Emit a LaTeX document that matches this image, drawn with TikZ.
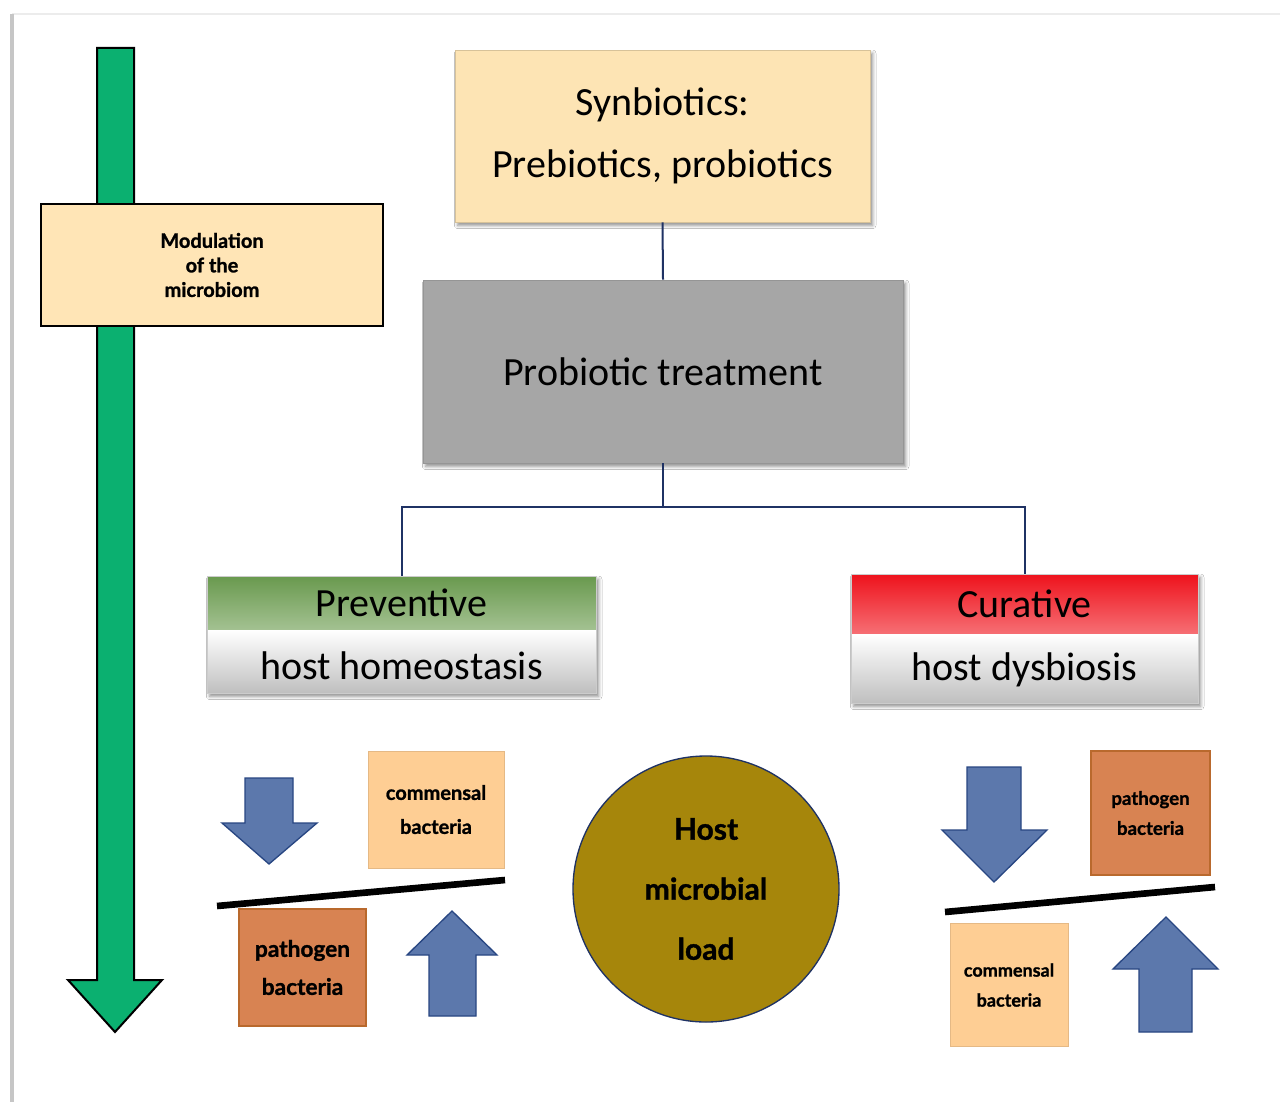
\documentclass[tikz,border=0pt]{standalone}
\usepackage{fontspec}
\setmainfont{Carlito}
\newfontfamily\latofont[BoldFeatures={FakeBold=1.2}]{Lato}
\usetikzlibrary{shadows.blur}
\definecolor{peach}{RGB}{253,228,180}
\definecolor{peachB}{RGB}{255,229,182}
\definecolor{greyfill}{RGB}{166,166,166}
\definecolor{navy}{RGB}{31,50,100}
\definecolor{comm}{RGB}{254,206,148}
\definecolor{path}{RGB}{216,131,82}
\definecolor{pathB}{RGB}{185,105,45}
\definecolor{gold}{RGB}{166,134,11}
\definecolor{arrowgreen}{RGB}{11,176,112}
\definecolor{arrowblue}{RGB}{92,120,172}
\definecolor{arrowblueB}{RGB}{40,70,130}
\definecolor{pgreen}{RGB}{105,153,78}
\definecolor{pgreenL}{RGB}{232,241,225}
\definecolor{cred}{RGB}{238,18,28}
\definecolor{credL}{RGB}{255,218,218}
\begin{document}
\begin{tikzpicture}[x=0.75pt,y=-0.75pt,
  shad/.style={blur shadow={shadow xshift=2pt,shadow yshift=-2.5pt,shadow blur radius=2.5pt,shadow opacity=45}},
  bigtext/.style={font=\fontsize{30}{47}\selectfont,align=center},
  conn/.style={draw=navy,line width=1.5pt},
  plainbox/.style={rectangle,inner sep=0pt,align=center},
  smallbold/.style 2 args={font=\latofont\bfseries\fontsize{#1}{#2}\selectfont},
  gradbox/.style 2 args={rectangle,inner sep=0pt,draw=gray!40,line width=0.6pt,shad,bigtext,
    path picture={
      \shade[top color=#1,bottom color=#2] (path picture bounding box.north west) rectangle ([yshift=3pt]path picture bounding box.east);
      \shade[top color=white,bottom color=gray!50] ([yshift=3pt]path picture bounding box.west) rectangle (path picture bounding box.south east);
    }},
  blockarrow/.style={fill=arrowblue,draw=arrowblueB,line width=1pt,line join=miter},
  balance/.style={line width=5pt,black}
]
\useasboundingbox (0,0) rectangle (1280,1102);
\fill[white] (0,0) rectangle (1280,1102);
% frame
\draw[gray!15,line width=1.5pt] (12,14) -- (1280,14);
\draw[gray!45,line width=2.5pt] (12,14) -- (12,1102);

% green arrow
\draw[fill=arrowgreen,draw=black,line width=1.5pt,line join=miter]
  (97,48) -- (134,48) -- (134,980) -- (162,980) -- (115,1032) -- (68,980) -- (97,980) -- cycle;

% modulation box
\node[plainbox,fill=peachB,draw=black,line width=1.2pt,minimum width=256.5pt,minimum height=91.5pt,
  smallbold={15}{18.4}] (mod) at (212,265) {Modulation\\of the\\microbiom};

% top boxes
\node[plainbox,fill=peach,draw=peach!85!black,line width=0.5pt,minimum width=311.25pt,minimum height=129pt,shad,bigtext]
  (syn) at (662.5,136) {Synbiotics:\\Prebiotics, probiotics};
\node[plainbox,fill=greyfill,draw=greyfill!90!black,line width=0.5pt,minimum width=360pt,minimum height=137.25pt,shad,bigtext]
  (prob) at (663,371.5) {Probiotic treatment};

% preventive / curative
\node[gradbox={pgreen}{pgreenL},minimum width=291.75pt,minimum height=87.75pt]
  (prev) at (401.5,634.5) {Preventive\\host homeostasis};
\node[gradbox={cred}{credL},minimum width=260.25pt,minimum height=96.75pt]
  (cur) at (1024.5,638.5) {Curative\\host dysbiosis};

% connectors
\coordinate (j) at (663,507);
\draw[conn] (syn.south) -- (prob.north);
\draw[conn] (prob.south) -- (j);
\draw[conn] (prev.north) |- (j) -| (cur.north);

% left balance group
\draw[blockarrow] (245,778) -- (293,778) -- (293,823) -- (317,823) -- (269,864) -- (222,823) -- (245,823) -- cycle;
\node[plainbox,fill=comm,draw=comm!90!black,line width=0.4pt,minimum width=102pt,minimum height=87.75pt,smallbold={15}{25.5}]
  (commL) at (436,809.5) {commensal\\bacteria};
\draw[balance] (217,906) -- (505,880);
\node[plainbox,fill=path,draw=pathB,line width=0.8pt,minimum width=95.25pt,minimum height=87.75pt,smallbold={17}{28.5}]
  (pathL) at (302.5,967.5) {pathogen\\bacteria};
\draw[blockarrow] (452,911) -- (497,955) -- (476,955) -- (476,1016) -- (429,1016) -- (429,955) -- (407,955) -- cycle;

% circle
\node[circle,fill=gold,draw=navy,line width=1pt,minimum size=199.5pt,inner sep=0pt,align=center,
  font=\latofont\bfseries\fontsize{22.5}{45}\selectfont] (load) at (706,889) {Host\\microbial\\load};

% right balance group
\draw[blockarrow] (967,767) -- (1021,767) -- (1021,830) -- (1047,830) -- (994,882) -- (942,830) -- (967,830) -- cycle;
\node[plainbox,fill=path,draw=pathB,line width=0.8pt,minimum width=89.25pt,minimum height=93pt,smallbold={14}{22.5}]
  (pathR) at (1150.5,813) {pathogen\\bacteria};
\draw[balance] (945,912) -- (1215,887);
\node[plainbox,fill=comm,draw=comm!90!black,line width=0.4pt,minimum width=88.5pt,minimum height=92.25pt,smallbold={13.5}{22.5}]
  (commR) at (1009,985) {commensal\\bacteria};
\draw[blockarrow] (1166,917) -- (1218,969) -- (1192,969) -- (1192,1032) -- (1139,1032) -- (1139,969) -- (1113,969) -- cycle;
\end{tikzpicture}
\end{document}
